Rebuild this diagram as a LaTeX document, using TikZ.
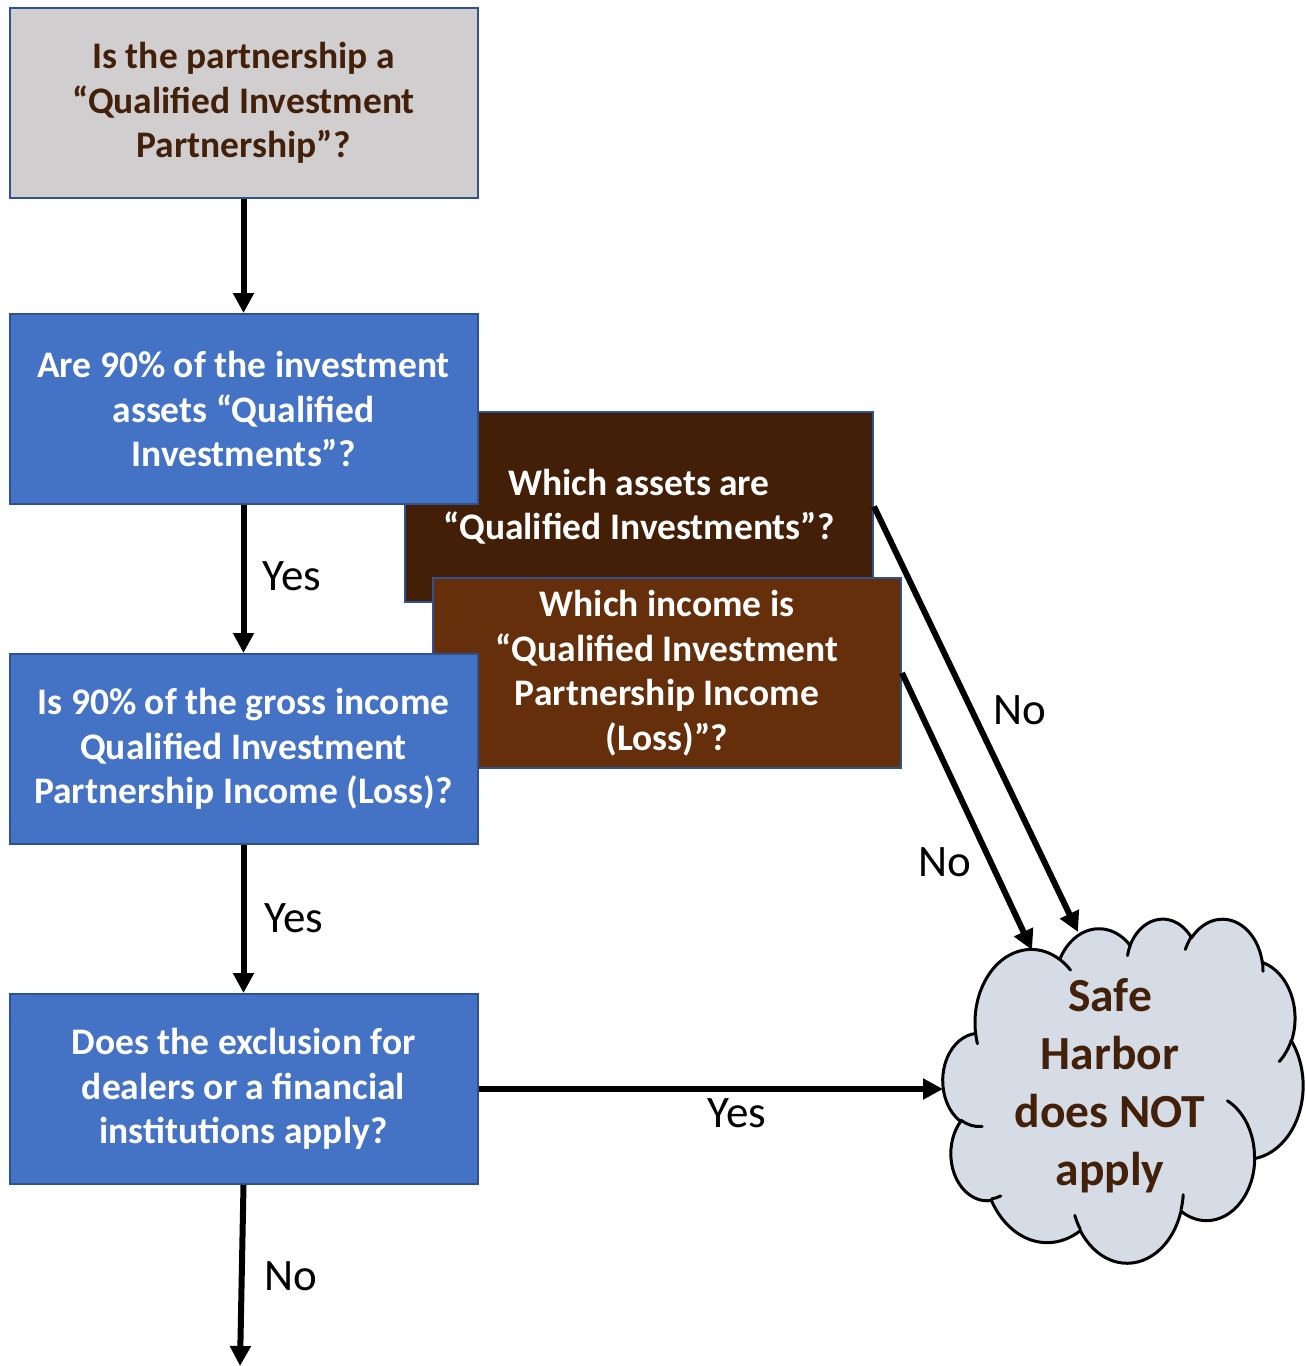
\documentclass[tikz,border=0pt]{standalone}
\usepackage{fontspec}
\setmainfont{Carlito}
\usetikzlibrary{arrows.meta}

\definecolor{boxblue}{HTML}{4472C4}
\definecolor{edgeblue}{HTML}{2F528F}
\definecolor{greyfill}{HTML}{D0CECE}
\definecolor{darkbrown}{HTML}{431F07}
\definecolor{midbrown}{HTML}{652F0B}
\definecolor{textbrown}{HTML}{43200A}
\definecolor{cloudfill}{HTML}{D6DCE5}

% OOXML arcTo (geometric angles) -> TikZ elliptical arc (parametric angles)
\newcommand\mkcarc[5]{%
  \pgfmathsetmacro\myCts{atan2((#2)*sin(#4),(#3)*cos(#4))}%
  \pgfmathsetmacro\myCte{atan2((#2)*sin((#4)+(#5)),(#3)*cos((#4)+(#5)))}%
  \pgfmathsetmacro\myCdt{mod(\myCte-\myCts+720,360)}%
  \expandafter\xdef\csname carc#1\endcsname{arc[x radius=#2,y radius=#3,start angle=\myCts,delta angle=\myCdt]}%
}
\mkcarc{A}{6.753}{9.19}{-190.4875}{123.7805}
\mkcarc{B}{5.333}{7.267}{-144.1024}{89.9452}
\mkcarc{C}{4.365}{5.945}{-145.8079}{99.7230}
\mkcarc{D}{4.857}{6.595}{-130.9861}{117.2417}
\mkcarc{E}{5.333}{7.273}{-78.7089}{109.0269}
\mkcarc{F}{6.775}{9.22}{-46.2673}{130.2690}
\mkcarc{G}{5.785}{7.867}{0.6250}{114.0333}
\mkcarc{H}{6.752}{9.215}{22.4516}{115.1726}
\mkcarc{I}{7.72}{10.543}{66.2426}{75.7110}
\mkcarc{J}{4.36}{5.918}{-274.9421}{146.7356}
\mkcarc{K}{4.345}{5.945}{-246.8285}{152.5189}
% inner strokes
\mkcarc{Ia}{4.345}{5.945}{86.7420}{26.4295}
\mkcarc{Ib}{4.36}{5.918}{73.6105}{11.4475}
\mkcarc{Ic}{6.752}{9.215}{137.6242}{14.0811}
\mkcarc{Id}{6.752}{9.215}{6.4533}{15.9984}
\mkcarc{Ie}{5.785}{7.867}{-70.2924}{70.9174}
\mkcarc{If}{5.333}{7.273}{30.3180}{27.7515}
\mkcarc{Ig}{4.857}{6.595}{-13.7443}{14.8589}
\mkcarc{Ih}{4.857}{6.595}{-149.1815}{18.1954}
\mkcarc{Ii}{4.365}{5.945}{-163.4943}{17.6864}
\mkcarc{Ij}{6.753}{9.19}{-66.7070}{12.3194}
\mkcarc{Ik}{6.753}{9.19}{157.6544}{11.8582}

\begin{document}
\begin{tikzpicture}[x=1pt,y=-1pt,
  box/.style={draw=edgeblue, line width=2pt, minimum width=468pt, minimum height=190pt,
    inner sep=0pt, align=center, text=white, font=\fontsize{37.5}{44.5}\selectfont\bfseries},
  bluebox/.style={box, fill=boxblue},
  lbl/.style={anchor=base, inner sep=0pt, font=\fontsize{45}{54}\selectfont},
  conn/.style={line width=6pt, -{Triangle[length=20pt,width=20pt]}}]
\useasboundingbox (0,0) rectangle (1306,1366);

% brown side boxes (behind the blue boxes)
\node[box, fill=darkbrown] (assets) at (639,506.5)
  {Which assets are\\“Qualified Investments”?};
\node[box, fill=midbrown] (income) at (667,673)
  {Which income is\\“Qualified Investment\\Partnership Income\\(Loss)”?};

% main column
\node[box, fill=greyfill, text=textbrown] (qip) at (243.5,103)
  {Is the partnership a\\“Qualified Investment\\Partnership”?};
\node[bluebox] (ninety) at (243.5,409)
  {Are 90\% of the investment\\assets “Qualified\\Investments”?};
\node[bluebox] (gross) at (243.5,749)
  {Is 90\% of the gross income\\Qualified Investment\\Partnership Income (Loss)?};
\node[bluebox] (excl) at (243.5,1089)
  {Does the exclusion for\\dealers or a financial\\institutions apply?};

% cloud
\begin{scope}[shift={(943,918)}]
\begin{scope}[x=8.3333pt,y=-7.963pt]
\draw[black, line width=3pt, fill=cloudfill, line join=round]
  (3.9,14.37) \carcA \carcB \carcC \carcD \carcE \carcF \carcG \carcH \carcI \carcJ \carcK -- cycle;
\draw[black, line width=3pt, line cap=round]
  (4.693,26.177) \carcIa
  (6.928,34.899) \carcIb
  (16.478,39.09) \carcIc
  (28.827,34.751) \carcId
  (34.129,22.954) \carcIe
  (41.798,15.354) \carcIf
  (38.324,5.426) \carcIg
  (29.078,3.952) \carcIh
  (22.141,4.72) \carcIi
  (14.0,5.192) \carcIj
  (4.127,15.789) \carcIk;
\end{scope}
\end{scope}
\node[align=center, inner sep=0pt, text=textbrown, font=\fontsize{47.5}{58}\selectfont\bfseries]
  (safe) at (1110,1086) {Safe\\Harbor\\does NOT\\apply};

\coordinate (cTopA) at (1078,932);
\coordinate (cTopB) at (1032,950);
\coordinate (cLeft) at (943,1089);
\coordinate (bottomEnd) at (240,1366);

% connectors
\draw[conn] (qip.south) -- (ninety.north);
\draw[conn] (ninety.south) -- (gross.north);
\draw[conn] (gross.south) -- (excl.north);
\draw[conn] (excl.south) -- (bottomEnd);
\draw[conn] (excl.east) -- (cLeft);
\draw[conn] (assets.east) -- (cTopA);
\draw[conn] (income.east) -- (cTopB);

% labels
\node[lbl] (yes1) at (292,590) {Yes};
\node[lbl] (yes2) at (294,932) {Yes};
\node[lbl] (no1) at (291,1290) {No};
\node[lbl] (yes3) at (737,1127) {Yes};
\node[lbl] (no2) at (1020,724) {No};
\node[lbl] (no3) at (945,876) {No};
\end{tikzpicture}
\end{document}
